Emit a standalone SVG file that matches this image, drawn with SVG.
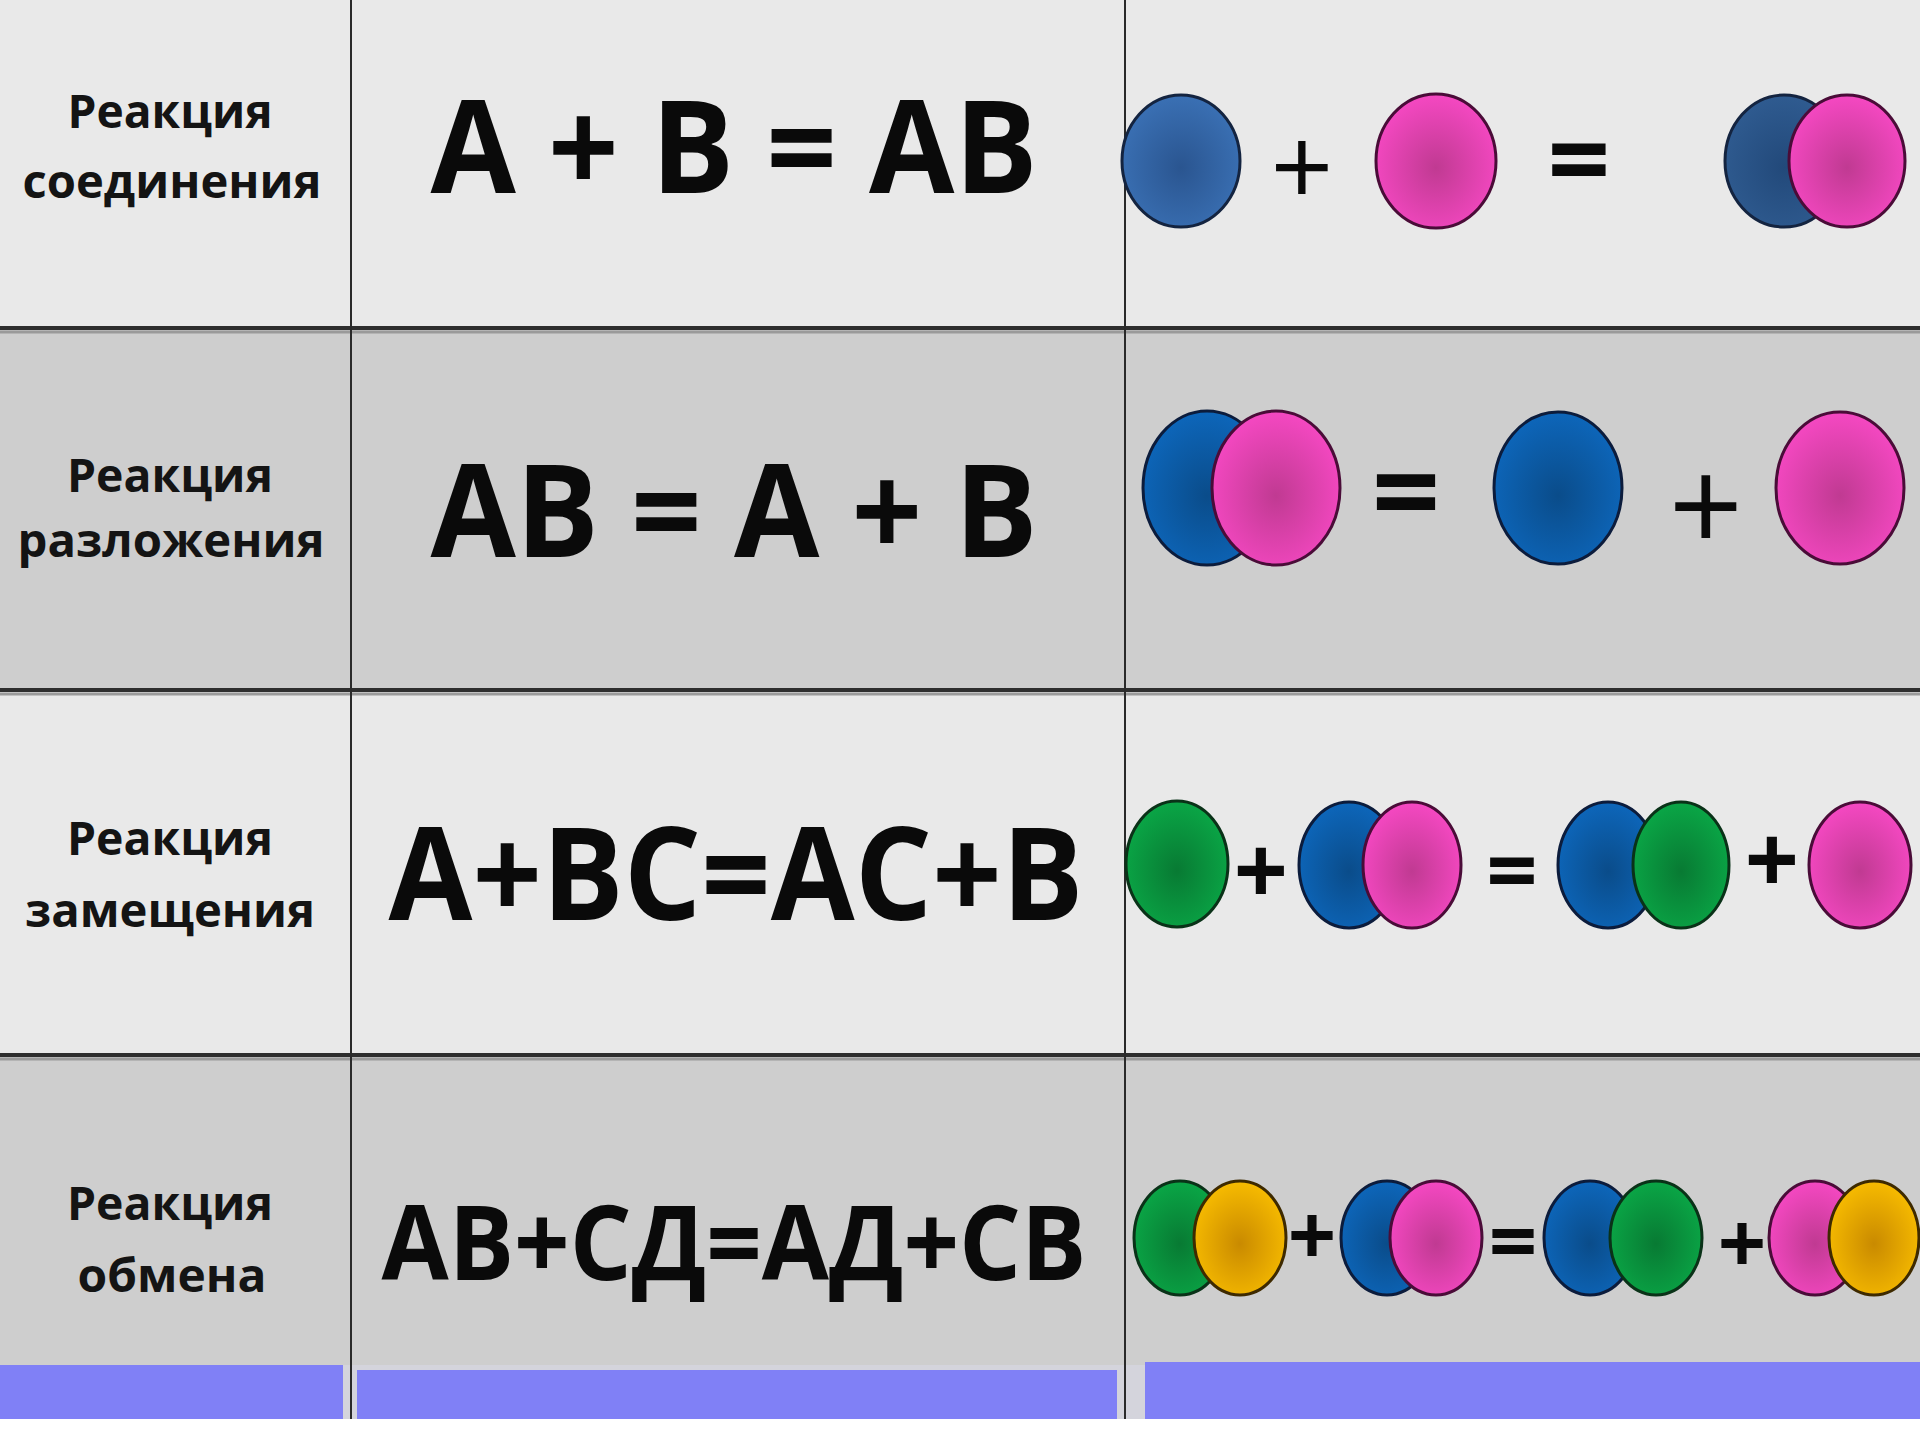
<svg xmlns="http://www.w3.org/2000/svg" width="1920" height="1440" viewBox="0 0 1920 1440">
<defs>
<radialGradient id="gBlue1" cx="50%" cy="55%" r="55%"><stop offset="0" stop-color="#2a5590"/><stop offset="1" stop-color="#3a70b4"/></radialGradient>
<radialGradient id="gBlue1d" cx="50%" cy="55%" r="55%"><stop offset="0" stop-color="#22497a"/><stop offset="1" stop-color="#2f5b90"/></radialGradient>
<radialGradient id="gBlue" cx="50%" cy="55%" r="55%"><stop offset="0" stop-color="#0a4c8a"/><stop offset="1" stop-color="#0d66ba"/></radialGradient>
<radialGradient id="gPink" cx="50%" cy="55%" r="55%"><stop offset="0" stop-color="#c03a92"/><stop offset="1" stop-color="#f548c2"/></radialGradient>
<radialGradient id="gGreen" cx="50%" cy="55%" r="55%"><stop offset="0" stop-color="#087a33"/><stop offset="1" stop-color="#0aa646"/></radialGradient>
<radialGradient id="gYellow" cx="50%" cy="55%" r="55%"><stop offset="0" stop-color="#c98a00"/><stop offset="1" stop-color="#f7bb00"/></radialGradient>
</defs>
<style>
.lbl{font-family:"Open Sans","Liberation Sans",sans-serif;font-weight:700;font-size:46px;fill:#141414;text-anchor:middle}
.eq{font-family:"Open Sans","Liberation Sans",sans-serif;font-weight:700;fill:#0a0a0a;text-anchor:middle}
.sym{font-family:"Open Sans","Liberation Sans",sans-serif;fill:#0a0a0a;text-anchor:middle}
.hl{stroke:#2e2e2e;stroke-width:4}
.hs{stroke:#9a9a9a;stroke-width:3}
.vl{stroke:#2a2a2a;stroke-width:2}
.b1{fill:url(#gBlue1);stroke:#142440;stroke-width:3}
.b1d{fill:url(#gBlue1d);stroke:#142440;stroke-width:3}
.b{fill:url(#gBlue);stroke:#0c1c3c;stroke-width:3}
.p{fill:url(#gPink);stroke:#4a0c38;stroke-width:3}
.g{fill:url(#gGreen);stroke:#0a3218;stroke-width:3}
.y{fill:url(#gYellow);stroke:#3e2a00;stroke-width:3}
</style>
<g id="background">
<rect x="0" y="0" width="1920" height="1440" fill="#ffffff"/>
<rect x="0" y="0" width="1920" height="328" fill="#e9e9e9"/>
<rect x="0" y="328" width="1920" height="362" fill="#cecece"/>
<rect x="0" y="690" width="1920" height="365" fill="#e9e9e9"/>
<rect x="0" y="1055" width="1920" height="310" fill="#cecece"/>
<rect x="0" y="1365" width="1920" height="54" fill="#d4d4dc"/>
<rect x="0" y="1365" width="343" height="54" fill="#8080f6"/>
<rect x="357" y="1370" width="760" height="49" fill="#8080f6"/>
<rect x="1145" y="1362" width="775" height="57" fill="#8080f6"/>
</g>
<g id="grid">
<line class="hs" x1="0" y1="332" x2="1920" y2="332"/>
<line class="hs" x1="0" y1="694" x2="1920" y2="694"/>
<line class="hs" x1="0" y1="1059" x2="1920" y2="1059"/>
<line class="hl" x1="0" y1="328" x2="1920" y2="328"/>
<line class="hl" x1="0" y1="690" x2="1920" y2="690"/>
<line class="hl" x1="0" y1="1055" x2="1920" y2="1055"/>
<line class="vl" x1="351" y1="0" x2="351" y2="1419"/>
<line class="vl" x1="1125" y1="0" x2="1125" y2="1419"/>
</g>
<g id="row-soedinenie">
<text class="lbl" x="170" y="128" textLength="205" lengthAdjust="spacingAndGlyphs">Реакция</text>
<text class="lbl" x="172" y="198" textLength="299" lengthAdjust="spacingAndGlyphs">соединения</text>
<text class="eq" x="734" y="193" font-size="130" textLength="607" lengthAdjust="spacingAndGlyphs">А + В = АВ</text>
<g id="pic-1">
<ellipse class="b1" cx="1181" cy="161" rx="59" ry="66"/>
<text class="sym" x="1302" y="206" font-size="110">+</text>
<ellipse class="p" cx="1436" cy="161" rx="60" ry="67"/>
<text class="eq" x="1579" y="198" font-size="110">=</text>
<ellipse class="b1d" cx="1784" cy="161" rx="59" ry="66"/>
<ellipse class="p" cx="1847" cy="161" rx="58" ry="66"/>
</g>
</g>
<g id="row-razlozhenie">
<text class="lbl" x="170" y="492" textLength="206" lengthAdjust="spacingAndGlyphs">Реакция</text>
<text class="lbl" x="171" y="557" textLength="307" lengthAdjust="spacingAndGlyphs">разложения</text>
<text class="eq" x="734" y="557" font-size="130" textLength="607" lengthAdjust="spacingAndGlyphs">АВ = А + В</text>
<g id="pic-2">
<ellipse class="b" cx="1207" cy="488" rx="64" ry="77"/>
<ellipse class="p" cx="1276" cy="488" rx="64" ry="77"/>
<text class="eq" x="1406" y="535" font-size="120">=</text>
<ellipse class="b" cx="1558" cy="488" rx="64" ry="76"/>
<text class="sym" x="1706" y="553" font-size="130">+</text>
<ellipse class="p" cx="1840" cy="488" rx="64" ry="76"/>
</g>
</g>
<g id="row-zameshchenie">
<text class="lbl" x="170" y="855" textLength="206" lengthAdjust="spacingAndGlyphs">Реакция</text>
<text class="lbl" x="170" y="927" textLength="290" lengthAdjust="spacingAndGlyphs">замещения</text>
<text class="eq" x="736" y="920" font-size="130" textLength="695" lengthAdjust="spacingAndGlyphs">А+ВС=АС+В</text>
<g id="pic-3">
<ellipse class="g" cx="1177" cy="864" rx="51" ry="63"/>
<text class="eq" x="1261" y="905" font-size="95">+</text>
<ellipse class="b" cx="1349" cy="865" rx="50" ry="63"/>
<ellipse class="p" cx="1412" cy="865" rx="49" ry="63"/>
<text class="eq" x="1512" y="902" font-size="90">=</text>
<ellipse class="b" cx="1608" cy="865" rx="50" ry="63"/>
<ellipse class="g" cx="1681" cy="865" rx="48" ry="63"/>
<text class="eq" x="1772" y="894" font-size="95">+</text>
<ellipse class="p" cx="1860" cy="865" rx="51" ry="63"/>
</g>
</g>
<g id="row-obmen">
<text class="lbl" x="170" y="1220" textLength="206" lengthAdjust="spacingAndGlyphs">Реакция</text>
<text class="lbl" x="172" y="1292" textLength="189" lengthAdjust="spacingAndGlyphs">обмена</text>
<text class="eq" x="734" y="1280" font-size="104" textLength="705" lengthAdjust="spacingAndGlyphs">АВ+СД=АД+СВ</text>
<g id="pic-4">
<ellipse class="g" cx="1180" cy="1238" rx="46" ry="57"/>
<ellipse class="y" cx="1240" cy="1238" rx="46" ry="57"/>
<text class="eq" x="1312" y="1265" font-size="85">+</text>
<ellipse class="b" cx="1387" cy="1238" rx="46" ry="57"/>
<ellipse class="p" cx="1436" cy="1238" rx="46" ry="57"/>
<text class="eq" x="1513" y="1271" font-size="85">=</text>
<ellipse class="b" cx="1590" cy="1238" rx="46" ry="57"/>
<ellipse class="g" cx="1656" cy="1238" rx="46" ry="57"/>
<text class="eq" x="1742" y="1273" font-size="85">+</text>
<ellipse class="p" cx="1815" cy="1238" rx="46" ry="57"/>
<ellipse class="y" cx="1874" cy="1238" rx="45" ry="57"/>
</g>
</g>
</svg>
